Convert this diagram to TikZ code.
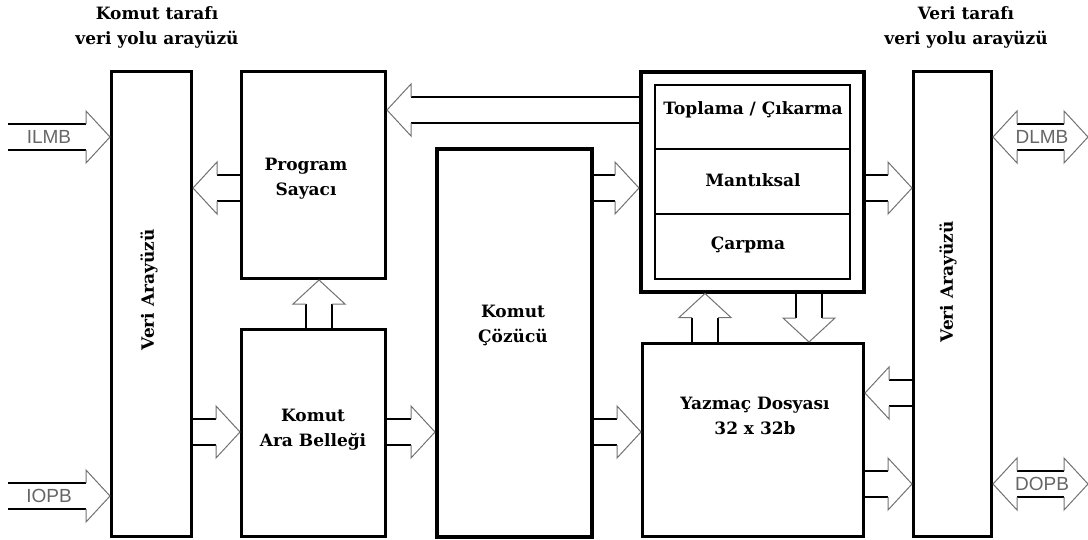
\documentclass[tikz,border=0pt]{standalone}
\usepackage{fontspec}
\setmainfont{DejaVu Serif}
\newfontfamily\lblfont{Liberation Sans}
\usetikzlibrary{calc}
\def\sw{13pt}
\def\hw{26pt}
\def\hl{24pt}
\tikzset{
  box/.style={draw, line width=3pt, minimum width=#1, anchor=north west, inner sep=0pt},
  txt/.style={font=\bfseries\fontsize{17}{25}\selectfont, align=center, inner sep=0pt},
  buslbl/.style={font=\lblfont\fontsize{19}{19}\selectfont, text=black!60, inner sep=0pt},
  shaftline/.style={line width=2.2pt, black},
  headline/.style={line width=1pt, black!55, line join=miter},
}
\newcommand\barrow[2]{%
  \draw[shaftline] let \p1=(#1),\p2=(#2),\n1={atan2(\y2-\y1,\x2-\x1)} in
    ($(\p1)+(\n1+90:\sw)$) -- ($(\p2)+(\n1:-\hl)+(\n1+90:\sw)$)
    ($(\p1)+(\n1-90:\sw)$) -- ($(\p2)+(\n1:-\hl)+(\n1-90:\sw)$);
  \draw[headline] let \p1=(#1),\p2=(#2),\n1={atan2(\y2-\y1,\x2-\x1)} in
    ($(\p2)+(\n1:-\hl)+(\n1+90:\sw)$) -- ($(\p2)+(\n1:-\hl)+(\n1+90:\hw)$) -- (\p2)
    -- ($(\p2)+(\n1:-\hl)+(\n1-90:\hw)$) -- ($(\p2)+(\n1:-\hl)+(\n1-90:\sw)$);
}
\newcommand\dbarrow[2]{%
  \draw[shaftline] let \p1=(#1),\p2=(#2),\n1={atan2(\y2-\y1,\x2-\x1)} in
    ($(\p1)+(\n1:\hl)+(\n1+90:\sw)$) -- ($(\p2)+(\n1:-\hl)+(\n1+90:\sw)$)
    ($(\p1)+(\n1:\hl)+(\n1-90:\sw)$) -- ($(\p2)+(\n1:-\hl)+(\n1-90:\sw)$);
  \draw[headline] let \p1=(#1),\p2=(#2),\n1={atan2(\y2-\y1,\x2-\x1)} in
    ($(\p2)+(\n1:-\hl)+(\n1+90:\sw)$) -- ($(\p2)+(\n1:-\hl)+(\n1+90:\hw)$) -- (\p2)
    -- ($(\p2)+(\n1:-\hl)+(\n1-90:\hw)$) -- ($(\p2)+(\n1:-\hl)+(\n1-90:\sw)$)
    ($(\p1)+(\n1:\hl)+(\n1+90:\sw)$) -- ($(\p1)+(\n1:\hl)+(\n1+90:\hw)$) -- (\p1)
    -- ($(\p1)+(\n1:\hl)+(\n1-90:\hw)$) -- ($(\p1)+(\n1:\hl)+(\n1-90:\sw)$);
}
\begin{document}
\begin{tikzpicture}[x=1pt,y=-1pt]
\useasboundingbox[fill=white] (0,0) rectangle (1088,539);
% titles
\node[txt] (tl) at (157,27) {Komut tarafı\\veri yolu arayüzü};
\node[txt] (tr) at (966,27) {Veri tarafı\\veri yolu arayüzü};
% boxes
\node[box=80pt, minimum height=465pt] (lbus) at (110,70) {};
\node[box=78pt, minimum height=465pt] (rbus) at (912,70) {};
\node[box=144pt, minimum height=207pt] (pc) at (240,70) {};
\node[box=144pt, minimum height=207pt] (kab) at (240,328) {};
\node[box=155pt, minimum height=388pt, line width=3.5pt] (kc) at (435,147) {};
\node[box=223pt, minimum height=220pt, line width=3.5pt] (alu) at (639,70) {};
\node[box=195pt, minimum height=64pt, line width=2pt] (c1) at (654,84) {};
\node[box=195pt, minimum height=65pt, line width=2pt] (c2) at (654,148) {};
\node[box=195pt, minimum height=65pt, line width=2pt] (c3) at (654,213) {};
\node[box=221pt, minimum height=193pt] (rf) at (641,342) {};
% thicker left edges of the bus boxes
\draw[line width=2pt] ([xshift=1.5pt]lbus.north west) -- ([xshift=1.5pt]lbus.south west);
\draw[line width=2pt] ([xshift=1.5pt]rbus.north west) -- ([xshift=1.5pt]rbus.south west);
% labels
\node[txt, rotate=90] (lbl) at (149,290) {Veri Arayüzü};
\node[txt, rotate=90] (rbl) at (948,282) {Veri Arayüzü};
\node[txt] (pct) at (306,179) {Program\\Sayacı};
\node[txt] (kabt) at (313,430) {Komut\\Ara Belleği};
\node[txt] (kct) at (513,325) {Komut\\Çözücü};
\node[txt] (rft) at (755,416) {Yazmaç Dosyası\\32 x 32b};
\node[txt] (c1t) at (753,110) {Toplama / Çıkarma};
\node[txt] (c2t) at (753,180) {Mantıksal};
\node[txt] (c3t) at (748,245) {Çarpma};
% external bus ends
\coordinate (ilmbS) at (8,137);
\coordinate (iopbS) at (8,496);
\coordinate (dlmbE) at (1088,137);
\coordinate (dopbE) at (1088,484);
% arrows
\barrow{ilmbS}{lbus.west |- ilmbS}
\barrow{iopbS}{lbus.west |- iopbS}
\barrow{pc.west |- 0,188}{lbus.east |- 0,188}
\barrow{alu.west |- 0,110}{pc.east |- 0,110}
\barrow{kc.east |- 0,188}{alu.west |- 0,188}
\barrow{alu.east |- 0,188}{rbus.west |- 0,188}
\barrow{lbus.east |- 0,432}{kab.west |- 0,432}
\barrow{kab.east |- 0,432}{kc.west |- 0,432}
\barrow{kc.east |- 0,432}{rf.west |- 0,432}
\barrow{rf.north -| 705,0}{alu.south -| 705,0}
\barrow{alu.south -| 809,0}{rf.north -| 809,0}
\barrow{rbus.west |- 0,393}{rf.east |- 0,393}
\barrow{rf.east |- 0,484}{rbus.west |- 0,484}
\barrow{kab.north -| 319,0}{pc.south -| 319,0}
\dbarrow{rbus.east |- dlmbE}{dlmbE}
\dbarrow{rbus.east |- dopbE}{dopbE}
% bus names
\node[buslbl] (ilmb) at (49,137) {ILMB};
\node[buslbl] (iopb) at (49,496) {IOPB};
\node[buslbl] (dlmb) at (1042,137) {DLMB};
\node[buslbl] (dopb) at (1042,484) {DOPB};
\end{tikzpicture}
\end{document}
